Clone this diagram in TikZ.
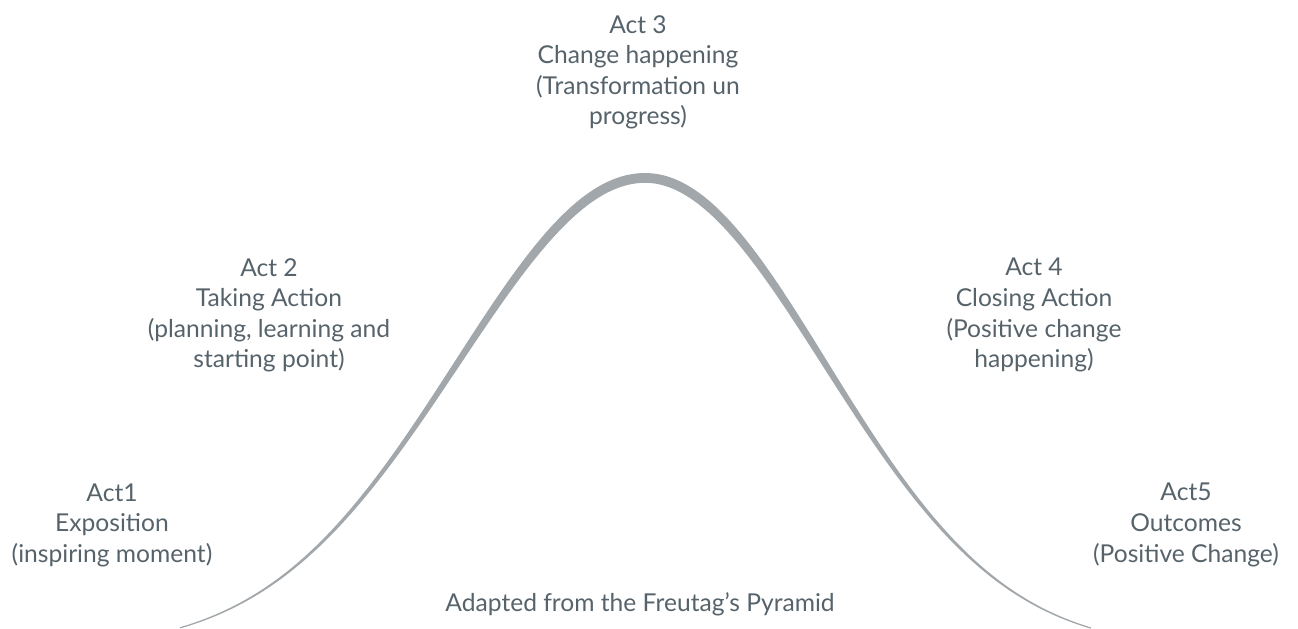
\documentclass[tikz,border=0pt]{standalone}
\usepackage{fontspec}
\setmainfont{Lato}
\definecolor{textgray}{HTML}{56636B}
\definecolor{curvegray}{HTML}{A1A7AB}

\begin{document}
\begin{tikzpicture}[x=2cm, y=-2cm,
	every node/.append style={align=center, anchor=north,
		text=textgray, inner sep=0pt,
		font=\fontsize{14}{17.4}\selectfont},
	declare function={
		el(\x)=exp(-((\x-6.45)^2)/7.0688);
		er(\x)=exp(-((\x-6.45)^2)/6.48);
		sl(\x)=4.72*el(\x)*(\x-6.45)/3.5344;
		sr(\x)=4.72*er(\x)*(\x-6.45)/3.24;
		hl(\x)=0.5*(0.008+0.09*el(\x))*sqrt(1+sl(\x)^2);
		hr(\x)=0.5*(0.008+0.09*er(\x))*sqrt(1+sr(\x)^2);
	}]

	\useasboundingbox (0,0) rectangle (12.98,6.28);

	% the arc
	\fill[curvegray]
		plot[domain=1.80:6.45, samples=120] (\x, {6.50-4.72*el(\x)-hl(\x)})
		-- plot[domain=6.45:10.91, samples=120] (\x, {6.50-4.72*er(\x)-hr(\x)})
		-- plot[domain=10.91:6.45, samples=120] (\x, {6.50-4.72*er(\x)+hr(\x)})
		-- plot[domain=6.45:1.80, samples=120] (\x, {6.50-4.72*el(\x)+hl(\x)})
		-- cycle;

	\node at (1.12, 4.83) (act1){Act1\\Exposition\\(inspiring moment)};
	\node at (2.69, 2.58) (act2){Act 2\\Taking Action\\(planning, learning and\\starting point)};
	\node at (6.38, 0.15) (act3){Act 3\\Change happening\\(Transformation un\\progress)};
	\node at (10.34, 2.58) (act4){Act 4\\Closing Action\\(Positive change\\happening)};
	\node at (11.86, 4.83) (act5){Act5\\Outcomes\\(Positive Change)};
	\node at (6.40, 5.92) (source){Adapted from the Freutag’s Pyramid};
\end{tikzpicture}
\end{document}
